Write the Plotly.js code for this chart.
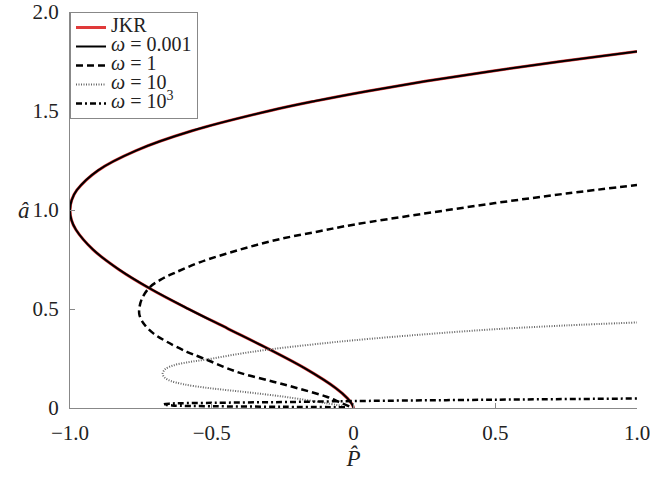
<!DOCTYPE html>
<html>
<head>
<meta charset="utf-8">
<script src="https://cdn.plot.ly/plotly-3.0.1.min.js"></script>
<style>
html,body{margin:0;padding:0;background:#fff;}
#chart{width:650px;height:478px;}
</style>
</head>
<body>
<div id="chart"></div>
<script>
// JKR curve, ordered from the lower branch to the upper branch
const P_jkr = [0, -0.002, -0.0057, -0.022, -0.062, -0.171, -0.302, -0.442, -0.582, -0.714, -0.828, -0.919, -0.979, -0.995, -1.0, -0.994, -0.976, -0.901, -0.767, -0.569, -0.299, -0.136, 0.048, 0.253, 0.48, 0.729, 1.0];
const a_jkr = [0, 0.01, 0.02, 0.05, 0.1, 0.2, 0.3, 0.4, 0.5, 0.6, 0.7, 0.8, 0.9, 0.95, 1.0, 1.05, 1.1, 1.2, 1.3, 1.4, 1.5, 1.55, 1.6, 1.65, 1.7, 1.75, 1.8];

// omega = 0.001 (coincides with JKR in the picture)
const P_w0001 = [0, -0.002, -0.0057, -0.022, -0.062, -0.171, -0.302, -0.442, -0.582, -0.714, -0.828, -0.919, -0.979, -0.995, -1.0, -0.994, -0.976, -0.901, -0.767, -0.569, -0.299, -0.136, 0.048, 0.253, 0.48, 0.729, 1.0];
const a_w0001 = [0, 0.01, 0.02, 0.05, 0.1, 0.2, 0.3, 0.4, 0.5, 0.6, 0.7, 0.8, 0.9, 0.95, 1.0, 1.05, 1.1, 1.2, 1.3, 1.4, 1.5, 1.55, 1.6, 1.65, 1.7, 1.75, 1.8];

// omega = 1
const P_w1 = [-0.015, -0.05, -0.095, -0.19, -0.283, -0.412, -0.53, -0.588, -0.659, -0.706, -0.741, -0.755, -0.756, -0.747, -0.718, -0.68, -0.63, -0.54, -0.4, -0.26, -0.12, 0.0, 0.25, 0.5, 0.75, 1.0];
const a_w1 = [0.008, 0.03, 0.057, 0.097, 0.133, 0.183, 0.251, 0.284, 0.335, 0.377, 0.428, 0.47, 0.495, 0.55, 0.611, 0.648, 0.683, 0.737, 0.8, 0.853, 0.893, 0.926, 0.982, 1.035, 1.083, 1.126];

// omega = 10
const P_w10 = [-0.03, -0.1, -0.165, -0.25, -0.341, -0.43, -0.518, -0.6, -0.645, -0.665, -0.673, -0.665, -0.636, -0.58, -0.518, -0.41, -0.295, -0.15, 0.0, 0.25, 0.5, 0.75, 1.0];
const a_w10 = [0.008, 0.025, 0.04, 0.058, 0.074, 0.088, 0.102, 0.12, 0.137, 0.152, 0.172, 0.195, 0.215, 0.232, 0.245, 0.272, 0.296, 0.32, 0.342, 0.372, 0.398, 0.417, 0.432];

// omega = 10^3
const P_w1e3 = [-0.03, -0.25, -0.5, -0.64, -0.67, -0.65, -0.5, -0.25, 0.0, 0.5, 1.0];
const a_w1e3 = [0.004, 0.006, 0.009, 0.013, 0.018, 0.022, 0.026, 0.03, 0.035, 0.042, 0.048];

const names = ['JKR', '<i>ω</i> = 0.001', '<i>ω</i> = 1', '<i>ω</i> = 10', '<i>ω</i> = 10<sup>3</sup>'];
const xTickVals = [-1, -0.5, 0, 0.5, 1];
const xTickText = ['\u22121.0', '\u22120.5', '0', '0.5', '1.0'];
const yTickVals = [0, 0.5, 1, 1.5, 2];
const yTickText = ['0', '0.5', '1.0', '1.5', '2.0'];

const FONT = 'Liberation Serif';

function legendLabel(s) { return '<span style="font-size:20px">' + s + '</span>'; }

const traces = [
  {x: P_jkr, y: a_jkr, name: legendLabel(names[0]), mode: 'lines', line: {color: '#e03a3a', width: 3, shape: 'spline'}},
  {x: P_w0001, y: a_w0001, name: legendLabel(names[1]), mode: 'lines', line: {color: '#000', width: 2, shape: 'spline'}},
  {x: P_w1, y: a_w1, name: legendLabel(names[2]), mode: 'lines', line: {color: '#000', width: 2.5, dash: '7px,4px', shape: 'spline'}},
  {x: P_w10, y: a_w10, name: legendLabel(names[3]), mode: 'lines', line: {color: '#666', width: 2, dash: '1px,1.5px', shape: 'spline'}},
  {x: P_w1e3, y: a_w1e3, name: legendLabel(names[4]), mode: 'lines', line: {color: '#000', width: 2.5, dash: '6px,3px,2px,3px', shape: 'spline'}}
];

const layout = {
  width: 650, height: 478,
  margin: {l: 70, r: 13, t: 12, b: 70},
  paper_bgcolor: '#fff', plot_bgcolor: '#fff',
  font: {family: FONT, size: 21, color: '#222'},
  showlegend: true,
  legend: {
    x: 0, y: 1, xanchor: 'left', yanchor: 'top',
    bgcolor: '#fff', bordercolor: '#888', borderwidth: 1,
    font: {family: FONT, size: 12.3, color: '#222'},
    itemwidth: 30, tracegroupgap: 0
  },
  xaxis: {
    range: [-1, 1], tickvals: xTickVals, ticktext: xTickText,
    tickfont: {family: FONT, size: 21, color: '#222'},
    showline: true, linecolor: '#888', linewidth: 1,
    ticks: 'inside', ticklen: 5, tickcolor: '#888',
    showgrid: false, zeroline: false,
    ticklabelstandoff: 6, ticklabeloverflow: 'allow',
    title: {text: '<i>P\u0302</i>', font: {family: FONT, size: 23, color: '#222'}, standoff: 4}
  },
  yaxis: {
    range: [0, 2], tickvals: yTickVals, ticktext: yTickText,
    tickfont: {family: FONT, size: 21, color: '#222'},
    showline: true, linecolor: '#888', linewidth: 1,
    ticks: 'inside', ticklen: 5, tickcolor: '#888',
    showgrid: false, zeroline: false,
    ticklabelstandoff: 6, ticklabeloverflow: 'allow'
  },
  annotations: [
    {text: '<i>â</i>', xref: 'paper', yref: 'paper', x: 0, y: 0.5, xshift: -54, showarrow: false,
     font: {family: FONT, size: 23, color: '#222'}}
  ]
};

Plotly.newPlot('chart', traces, layout, {displayModeBar: false, staticPlot: true});
</script>
</body>
</html>
